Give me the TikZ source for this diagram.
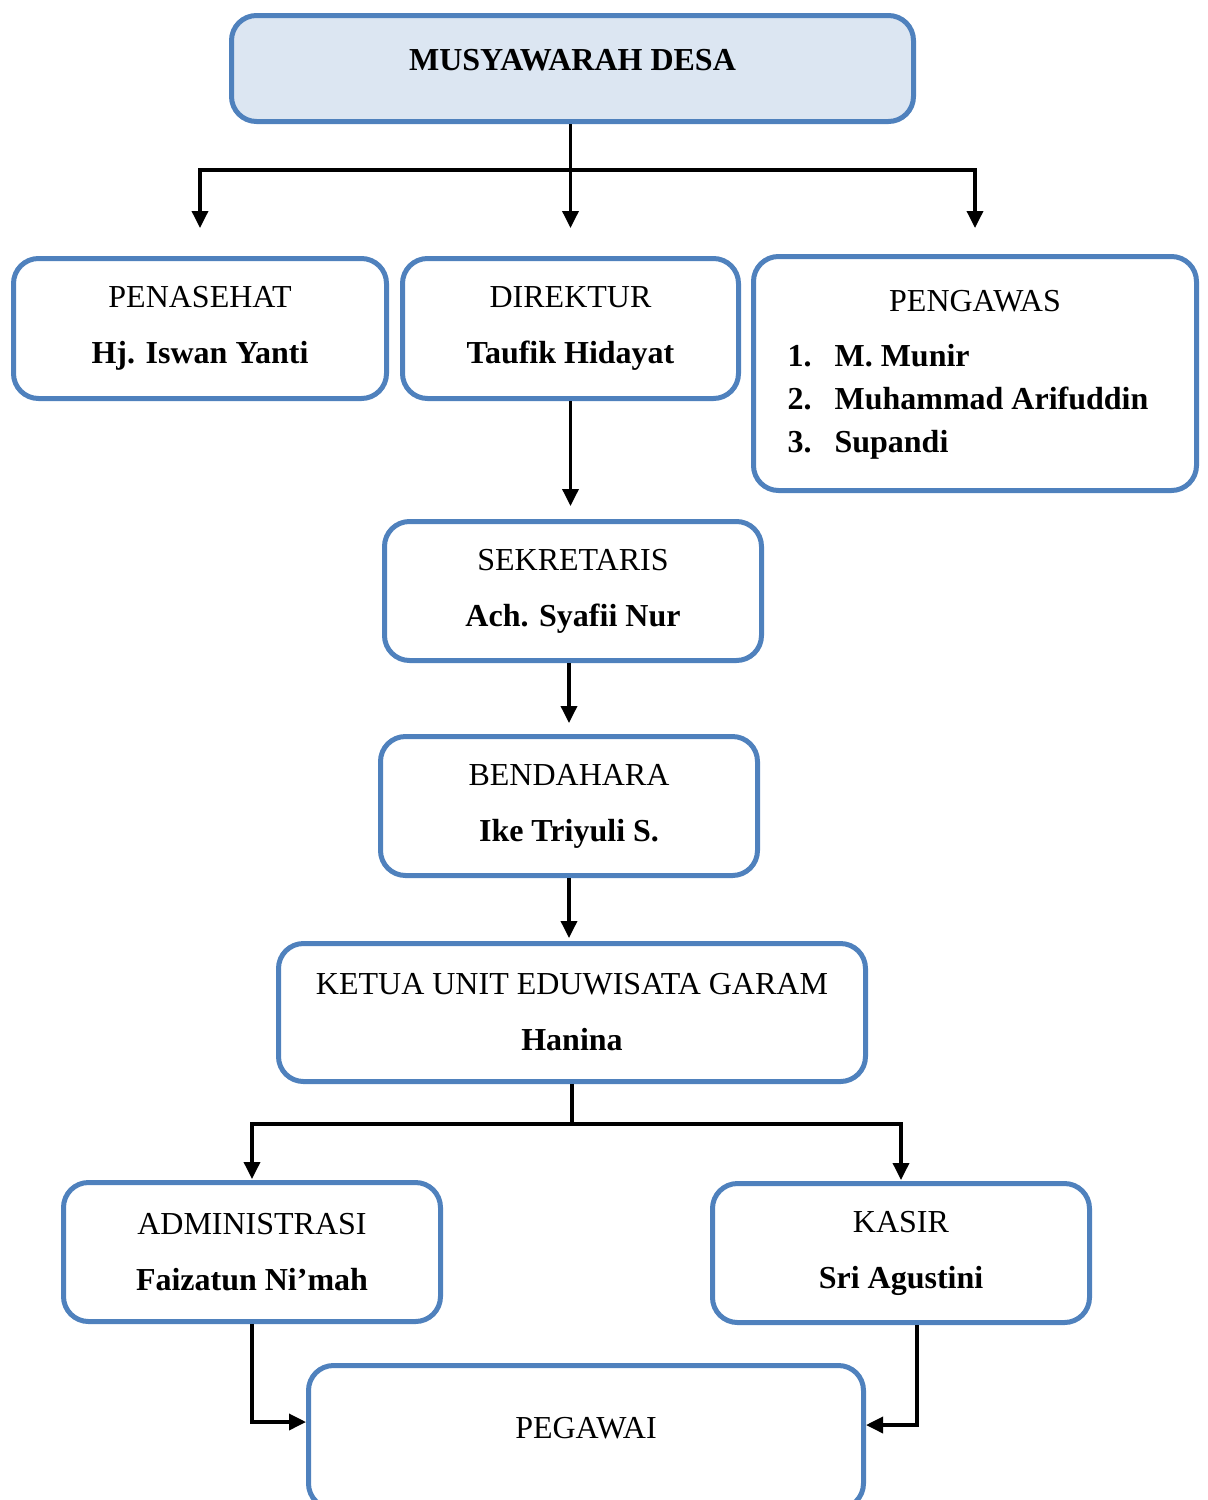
\documentclass[tikz,border=0pt]{standalone}
\usepackage{fontspec}
\setmainfont{Liberation Serif}
\usetikzlibrary{arrows.meta}
\definecolor{boxblue}{HTML}{4F81BD}
\definecolor{boxfill}{HTML}{DCE6F2}

\begin{document}
\begin{tikzpicture}[x=1pt, y=-1pt,
	box/.style={draw=boxblue, line width=5pt, rounded corners=25pt, align=center, inner sep=0pt, font=\fontsize{32}{56}\selectfont},
	arr/.style={-{Triangle[length=17pt, width=16pt]}, line width=3.5pt},
	]
	\clip (0, 0) rectangle (1208, 1500);
	\node (mus) at (572.5, 68.5) [box, fill=boxfill, minimum width=682pt, minimum height=106pt, text depth=17pt] {\textbf{MUSYAWARAH DESA}};
	\node (pen) at (200, 328.5) [box, minimum width=373pt, minimum height=140pt] {PENASEHAT \\ \textbf{Hj. Iswan Yanti}};
	\node (dir) at (570.5, 328.5) [box, minimum width=336pt, minimum height=140pt] {DIREKTUR \\ \textbf{Taufik Hidayat}};
	\node (peng) at (975, 373.5) [box, minimum width=443pt, minimum height=234pt, font=\fontsize{32}{43}\selectfont] {%
		\begin{tabular}{@{}l@{\hspace{23pt}}l@{\hspace{14pt}}}
			\multicolumn{2}{c}{PENGAWAS} \\[12pt]
			\textbf{1.} & \textbf{M. Munir} \\
			\textbf{2.} & \textbf{Muhammad Arifuddin} \\
			\textbf{3.} & \textbf{Supandi}
		\end{tabular}};
	\node (sek) at (573, 591) [box, minimum width=377pt, minimum height=139pt] {SEKRETARIS \\ \textbf{Ach. Syafii Nur}};
	\node (ben) at (569, 806) [box, minimum width=377pt, minimum height=139pt] {BENDAHARA \\ \textbf{Ike Triyuli S.}};
	\node (ket) at (572, 1012.5) [box, minimum width=587pt, minimum height=138pt] {KETUA UNIT EDUWISATA GARAM \\ \textbf{Hanina}};
	\node (adm) at (252, 1252) [box, minimum width=377pt, minimum height=139pt] {ADMINISTRASI \\ \textbf{Faizatun Ni’mah}};
	\node (kas) at (901, 1253) [box, minimum width=377pt, minimum height=139pt] {KASIR \\ \textbf{Sri Agustini}};
	\node (peg) at (586, 1437) [box, minimum width=555pt, minimum height=143pt, text depth=18pt] {PEGAWAI};

	\draw[arr, shorten >=28pt] (dir.north |- mus.south) -- ++(0, 46) -| (pen.north);
	\draw[arr, shorten >=28pt] (dir.north |- mus.south) -- (dir.north);
	\draw[arr, shorten >=26pt] (dir.north |- mus.south) -- ++(0, 46) -| (peng.north);
	\draw[arr, shorten >=13pt] (dir.south) -- (dir.south |- sek.north);
	\draw[arr, shorten >=11pt] (ben.north |- sek.south) -- (ben.north);
	\draw[arr, shorten >=3pt] (ben.south) -- (ben.south |- ket.north);
	\draw[arr, shorten >=1pt] (ket.south) -- ++(0, 40) -| (adm.north);
	\draw[arr, shorten >=1pt] (ket.south) -- ++(0, 40) -| (kas.north);
	\draw[arr] (adm.south) |- ([yshift=15pt]peg.west);
	\draw[arr] ([xshift=16pt]kas.south) |- ([yshift=12pt]peg.east);
\end{tikzpicture}
\end{document}
